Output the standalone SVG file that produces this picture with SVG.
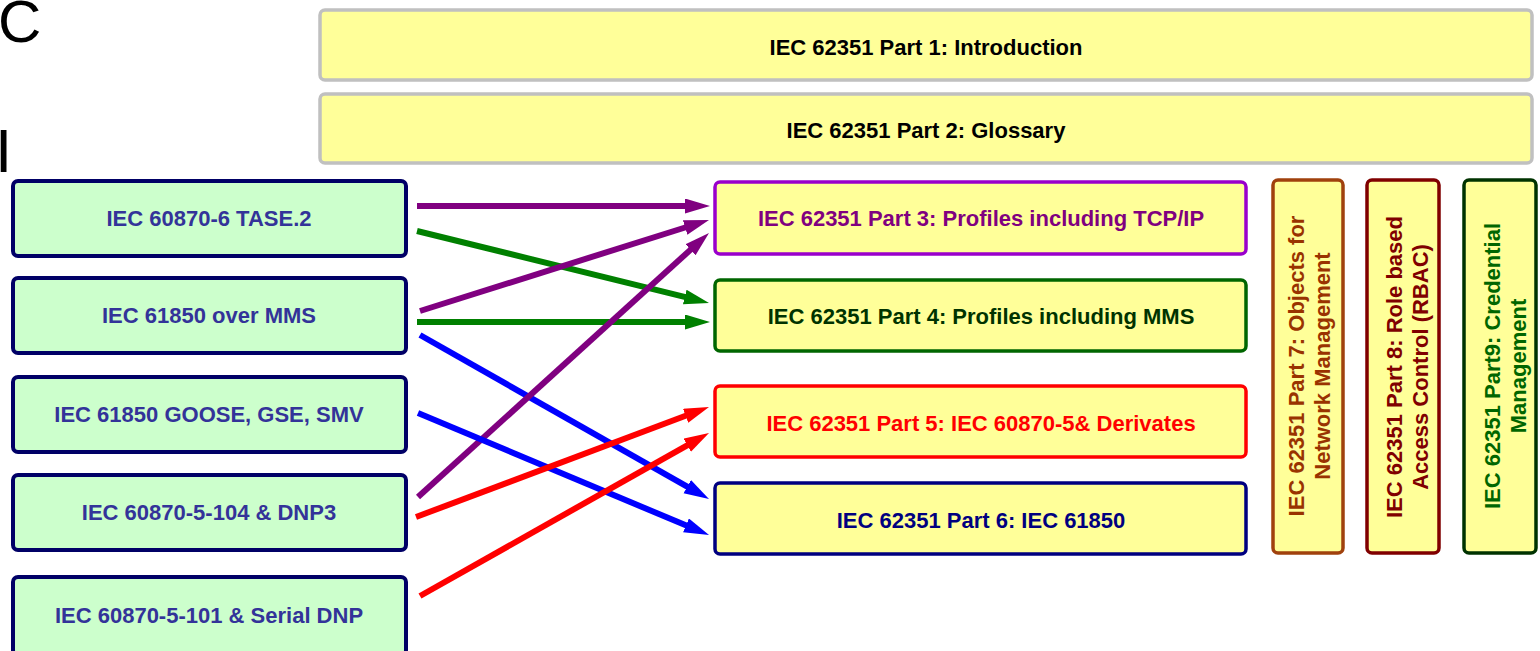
<svg xmlns="http://www.w3.org/2000/svg" width="1540" height="651" viewBox="0 0 1540 651">
<style>
text{font-family:"Liberation Sans",Arial,sans-serif;font-weight:bold;font-size:22px;text-anchor:middle}
text.big{font-weight:normal;text-anchor:start;fill:#000}
.top rect{fill:#ffff99;stroke:#c0c0c0;stroke-width:3.5}
.top text{fill:#000}
.src rect{fill:#ccffcc;stroke:#000066;stroke-width:4}
.src text{fill:#333399}
.dst rect{fill:#ffff99;stroke-width:3.5}
.conn line{stroke-width:6;fill:none}
</style>
<defs>
<marker id="ap" markerUnits="userSpaceOnUse" markerWidth="26" markerHeight="16" refX="5" refY="7.5" orient="auto"><path d="M0,0 L25,7.5 L0,15 z" fill="#800080"/></marker>
<marker id="ag" markerUnits="userSpaceOnUse" markerWidth="26" markerHeight="16" refX="5" refY="7.5" orient="auto"><path d="M0,0 L25,7.5 L0,15 z" fill="#008000"/></marker>
<marker id="ab" markerUnits="userSpaceOnUse" markerWidth="26" markerHeight="16" refX="5" refY="7.5" orient="auto"><path d="M0,0 L25,7.5 L0,15 z" fill="#0000ff"/></marker>
<marker id="ar" markerUnits="userSpaceOnUse" markerWidth="26" markerHeight="16" refX="5" refY="7.5" orient="auto"><path d="M0,0 L25,7.5 L0,15 z" fill="#ff0000"/></marker>
</defs>
<rect width="1540" height="651" fill="#fff"/>
<text class="big" x="-2" y="42" style="font-size:60px">C</text>
<text class="big" x="-5" y="172" style="font-size:62px">I</text>

<g id="part1" class="top"><rect x="320" y="10" width="1212" height="70" rx="5"/><text x="926" y="55">IEC 62351 Part 1: Introduction</text></g>
<g id="part2" class="top"><rect x="320" y="94" width="1212" height="69" rx="5"/><text x="926" y="138">IEC 62351 Part 2: Glossary</text></g>

<g id="tase2" class="src"><rect x="13" y="181" width="393" height="75" rx="5"/><text x="209" y="226">IEC 60870-6 TASE.2</text></g>
<g id="mms" class="src"><rect x="13" y="278" width="393" height="75" rx="5"/><text x="209" y="323">IEC 61850 over MMS</text></g>
<g id="goose" class="src"><rect x="13" y="377" width="393" height="75" rx="5"/><text x="209" y="422">IEC 61850 GOOSE, GSE, SMV</text></g>
<g id="iec104" class="src"><rect x="13" y="475" width="393" height="75" rx="5"/><text x="209" y="520">IEC 60870-5-104 &amp; DNP3</text></g>
<g id="iec101" class="src"><rect x="13" y="577" width="393" height="78" rx="5"/><text x="209" y="623">IEC 60870-5-101 &amp; Serial DNP</text></g>

<g id="part3" class="dst"><rect x="715" y="182" width="531" height="72" rx="5" stroke="#9900cc"/><text x="981" y="226" fill="#800080">IEC 62351 Part 3: Profiles including TCP/IP</text></g>
<g id="part4" class="dst"><rect x="715" y="280" width="531" height="71" rx="5" stroke="#006600"/><text x="981" y="324" fill="#003300">IEC 62351 Part 4: Profiles including MMS</text></g>
<g id="part5" class="dst"><rect x="715" y="386" width="531" height="71" rx="5" stroke="#ff0000"/><text x="981" y="431" fill="#ff0000">IEC 62351 Part 5: IEC 60870-5&amp; Derivates</text></g>
<g id="part6" class="dst"><rect x="715" y="483" width="531" height="71" rx="5" stroke="#000080"/><text x="981" y="528" fill="#000080">IEC 62351 Part 6: IEC 61850</text></g>

<g id="part7" class="dst"><rect x="1273" y="180" width="70" height="373" rx="5" stroke="#a0410d"/>
<text transform="translate(0 366) rotate(-90)" fill="#993300"><tspan x="0" y="1304">IEC 62351 Part 7: Objects for</tspan><tspan x="0" y="1330">Network Management</tspan></text></g>
<g id="part8" class="dst"><rect x="1367" y="180" width="72" height="373" rx="5" stroke="#800000"/>
<text transform="translate(0 367) rotate(-90)" fill="#800000"><tspan x="0" y="1402">IEC 62351 Part 8: Role based</tspan><tspan x="0" y="1428">Access Control (RBAC)</tspan></text></g>
<g id="part9" class="dst"><rect x="1464" y="180" width="72" height="373" rx="5" stroke="#003300"/>
<text transform="translate(0 366) rotate(-90)" fill="#006600"><tspan x="0" y="1500">IEC 62351 Part9: Credential</tspan><tspan x="0" y="1526">Management</tspan></text></g>

<g id="connectors" class="conn">
<line x1="417" y1="206" x2="690" y2="206" stroke="#800080" marker-end="url(#ap)"/>
<line x1="417" y1="231" x2="689.6" y2="298.2" stroke="#008000" marker-end="url(#ag)"/>
<line x1="420" y1="311" x2="689.9" y2="226" stroke="#800080" marker-end="url(#ap)"/>
<line x1="417" y1="322" x2="690" y2="322" stroke="#008000" marker-end="url(#ag)"/>
<line x1="420" y1="335" x2="691.6" y2="489.1" stroke="#0000ff" marker-end="url(#ab)"/>
<line x1="418" y1="497" x2="694.2" y2="246.4" stroke="#800080" marker-end="url(#ap)"/>
<line x1="418" y1="413" x2="690.6" y2="527.3" stroke="#0000ff" marker-end="url(#ab)"/>
<line x1="416" y1="517" x2="690.3" y2="414" stroke="#ff0000" marker-end="url(#ar)"/>
<line x1="420" y1="596" x2="691.6" y2="442.8" stroke="#ff0000" marker-end="url(#ar)"/>
</g>
</svg>
